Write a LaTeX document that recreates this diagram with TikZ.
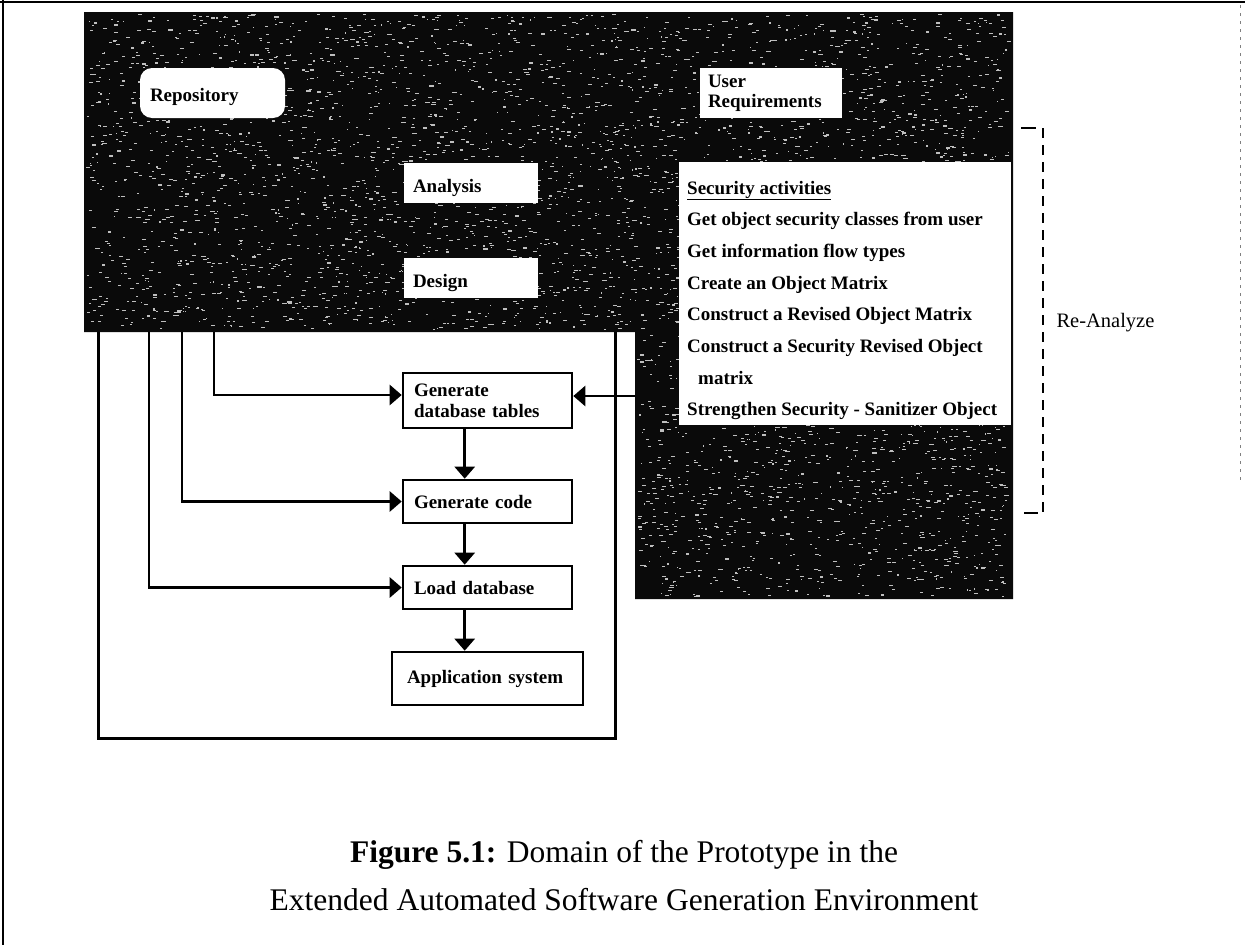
\documentclass[tikz,border=0pt]{standalone}
\usepackage{fontspec}
\setmainfont{Liberation Serif}
\usetikzlibrary{arrows.meta,calc}
\begin{document}
\begin{tikzpicture}[x=1pt,y=-1pt,
  every node/.style={font=\fontsize{19}{21}\selectfont\bfseries},
  flowbox/.style={draw, line width=2.6pt, fill=white, align=left,
    inner xsep=11pt, inner ysep=0pt, text width=147pt},
  plate/.style={fill=white, align=left, inner ysep=0pt},
  arr/.style={line width=2.6pt, -{Triangle[length=12pt,width=20pt]}},
  darkfill/.style={fill=black!96},
  speck/.style={fill=white!75!black},
  frame/.style={line width=2pt},
  bracket/.style={line width=2pt}
]
\useasboundingbox (0,0) rectangle (1245,945);

% page frame
\draw[frame] (3,0) -- (3,945);
\draw[frame] (0,1.5) -- (1245,1.5);
\draw[gray, line width=1pt, dash pattern=on 3pt off 5pt] (1240,5) -- (1240,480);

% domain of the prototype (open box below the environment)
\node[draw, line width=3pt, minimum width=517pt, minimum height=418pt, inner sep=0pt]
  (domain) at (356.5,529) {};

% automated software generation environment (dark, grainy region)
\fill[darkfill] (84,12) -- (1013,12) -- (1013,599) -- (635,599)
  -- (635,332) -- (84,332) -- cycle;
\pgfmathsetseed{4711}
\foreach \k in {1,...,3400}{
  \pgfmathsetmacro\sx{86+922*rnd}
  \pgfmathsetmacro\sy{14+315*rnd}
  \pgfmathsetmacro\sw{1+3.5*rnd}
  \fill[speck] (\sx,\sy) rectangle ++(\sw,1.1);
}
\foreach \k in {1,...,1200}{
  \pgfmathsetmacro\sx{637+370*rnd}
  \pgfmathsetmacro\sy{333+263*rnd}
  \pgfmathsetmacro\sw{1+3.5*rnd}
  \fill[speck] (\sx,\sy) rectangle ++(\sw,1.1);
}

% entry points on the edge of the dark region
\coordinate (tapA) at (214,332);
\coordinate (tapB) at (182,332);
\coordinate (tapC) at (149,332);
\coordinate (tapR) at (635,396);

% elements of the environment
\node[plate, rounded corners=12pt, inner xsep=10pt, text width=125pt, minimum height=50pt,
  text height=16pt, text depth=0pt]
  (repo) at (212.5,93) {Repository};
\node[plate, inner xsep=8pt, text width=126pt, minimum height=50pt,
  font=\fontsize{19}{20}\selectfont\bfseries]
  (userreq) at (771,93) {User\\Requirements};
\node[plate, inner xsep=9pt, text width=116pt, minimum height=40pt,
  text height=19pt, text depth=0pt]
  (analysis) at (471,183) {Analysis};
\node[plate, inner xsep=9pt, text width=116pt, minimum height=40pt,
  text height=19pt, text depth=0pt]
  (design) at (471,278) {Design};

% security activities panel
\node[fill=white, minimum width=332pt, minimum height=263pt, inner sep=0pt]
  (secbox) at (845,293.5) {};
\foreach \t [count=\i from 0] in {
    {\underline{Security activities}},
    {Get object security classes from user},
    {Get information flow types},
    {Create an Object Matrix},
    {Construct a Revised Object Matrix},
    {Construct a Security Revised Object},
    {\hspace*{11pt}matrix},
    {Strengthen Security - Sanitizer Object}}
  \node[anchor=base west, inner sep=0pt] (sec\i) at (687,{194+31.7*\i}) {\t};

% re-analyze bracket
\coordinate (brtop) at (1043,128);
\coordinate (brbot) at (1043,513);
\draw[bracket, dash pattern=on 10pt off 7pt] (brtop) -- (brbot);
\draw[bracket] ([xshift=-22pt]brtop) -- ([xshift=-7pt]brtop);
\draw[bracket] ([xshift=-19pt]brbot) -- ([xshift=-5pt]brbot);
\node[anchor=west, font=\fontsize{20.5}{22}\selectfont] (reanalyze) at (1053,323) {Re-Analyze};

% generation steps
\node[flowbox, minimum height=55pt] (gendb) at (487.5,400.5) {Generate\\database tables};
\node[flowbox, minimum height=43pt] (gencode) at (487.5,501.5) {Generate code};
\node[flowbox, minimum height=43pt] (loaddb) at (487.5,587.5) {Load database};
\node[flowbox, inner xsep=15pt, text width=161pt, minimum height=53pt]
  (appsys) at (487.5,678.5) {Application system};

% connectors
\draw[arr] (tapA) |- ([yshift=5.5pt]gendb.west);
\draw[arr] (tapB) |- (gencode.west);
\draw[arr] (tapC) |- (loaddb.west);
\draw[arr] (tapR) -- ([yshift=4.5pt]gendb.east);
\coordinate (d1) at ([xshift=63pt]gendb.south west);
\coordinate (d2) at ([xshift=63pt]gencode.south west);
\coordinate (d3) at ([xshift=63pt]loaddb.south west);
\draw[arr] (d1) -- (d1 |- gencode.north);
\draw[arr] (d2) -- (d2 |- loaddb.north);
\draw[arr] (d3) -- (d3 |- appsys.north);

% caption
\node[font=\fontsize{31.5}{48}\selectfont, align=center] (caption) at (624,876)
  {\textbf{Figure 5.1:} Domain of the Prototype in the\\Extended Automated Software Generation Environment};
\end{tikzpicture}
\end{document}
